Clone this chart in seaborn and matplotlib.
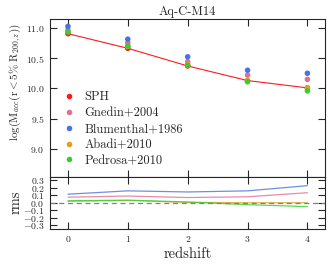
import matplotlib
matplotlib.use("Agg")
import matplotlib.pyplot as plt
import seaborn as sns
import pandas as pd
import numpy as np

sns.set_style("ticks")
plt.rcParams['font.family'] = 'serif'
plt.rcParams['font.serif'] = ['cmr10', 'DejaVu Serif']
plt.rcParams['mathtext.fontset'] = 'cm'
plt.rcParams['axes.formatter.use_mathtext'] = True
plt.rcParams['axes.unicode_minus'] = True

redshift = [0, 1, 2, 3, 4]
sph = [10.90, 10.66, 10.37, 10.13, 10.01]
gnedin = [10.96, 10.75, 10.44, 10.22, 10.15]
blumenthal = [11.02, 10.81, 10.52, 10.30, 10.25]
abadi = [10.93, 10.69, 10.40, 10.13, 10.01]
pedrosa = [10.93, 10.70, 10.38, 10.11, 9.96]

rms_gnedin = [0.075, 0.09, 0.07, 0.08, 0.135]
rms_blumenthal = [0.115, 0.16, 0.145, 0.16, 0.23]
rms_abadi = [0.02, 0.03, 0.005, 0.0, 0.0]
rms_pedrosa = [0.026, 0.035, 0.01, -0.026, -0.053]

names = ["SPH", "Gnedin+2004", "Blumenthal+1986", "Abadi+2010", "Pedrosa+2010"]
colors = ["#ff1a1a", "#e07090", "#4a72e0", "#e0a020", "#30d030"]

main_df = pd.DataFrame({
    "redshift": redshift * 5,
    "value": sph + gnedin + blumenthal + abadi + pedrosa,
    "model": sum([[n] * 5 for n in names], []),
})
rms_names = names[1:]
rms_df = pd.DataFrame({
    "redshift": redshift * 4,
    "rms": rms_gnedin + rms_blumenthal + rms_abadi + rms_pedrosa,
    "model": sum([[n] * 5 for n in rms_names], []),
})

fig = plt.figure(figsize=(3.32, 2.65), dpi=100)
ax = fig.add_axes([0.1506, 0.333, 0.8294, 0.595])
ax2 = fig.add_axes([0.1506, 0.137, 0.8294, 0.196], sharex=ax)

pal = dict(zip(names, colors))
sns.lineplot(x=redshift, y=sph, color=pal["SPH"], lw=0.8, ax=ax, zorder=1)
sns.scatterplot(data=main_df, x="redshift", y="value", hue="model",
                palette=pal, s=16, linewidth=0, ax=ax, zorder=3)

sns.lineplot(data=rms_df, x="redshift", y="rms", hue="model",
             palette={k: pal[k] for k in rms_names}, lw=0.9, alpha=0.8,
             ax=ax2, legend=False)
ax2.axhline(0, color="gray", ls="--", lw=0.9, dashes=(4, 3))

ax.set_xlim(-0.3, 4.3)
ax.set_ylim(8.55, 11.14)
ax2.set_ylim(-0.35, 0.35)
ax.set_yticks([9.0, 9.5, 10.0, 10.5, 11.0])
ax2.set_yticks([-0.3, -0.2, -0.1, 0.0, 0.1, 0.2, 0.3])
ax2.set_xticks([0, 1, 2, 3, 4])
ax.tick_params(labelbottom=False)
for a in (ax, ax2):
    a.tick_params(direction="in", top=True, right=True, length=5, width=0.8,
                  labelsize=7, pad=4)
    for s in a.spines.values():
        s.set_linewidth(0.8)
ax.set_xlabel("")
ax.set_ylabel(r"$\log(\mathrm{M}_{acc}(\mathrm{r} < 5\%\ \mathrm{R}_{200,z}))$",
              fontsize=8)
ax.yaxis.set_label_coords(-0.095, 0.6)
ax2.set_ylabel("rms", fontsize=10.5)
ax2.yaxis.set_label_coords(-0.1, 0.5)
ax2.set_xlabel("redshift", fontsize=10.5, labelpad=2)
ax.set_title("Aq-C-M14", fontsize=9, pad=3)

leg = ax.legend(loc="lower left", frameon=False, fontsize=9, handletextpad=0.45,
                handlelength=1.5, labelspacing=0.3, borderaxespad=0.4,
                markerscale=1.0)

fig.savefig("out.png", dpi=100)
